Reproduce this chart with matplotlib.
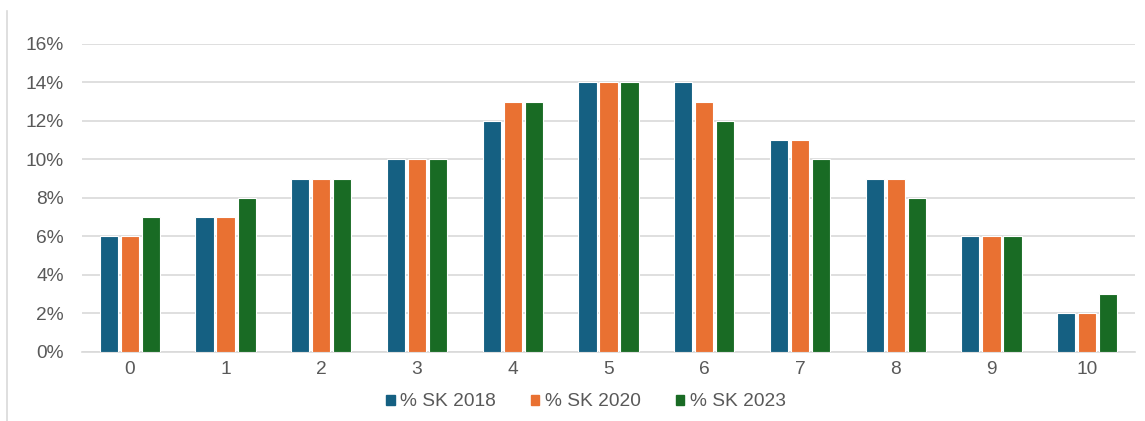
import numpy as np
import matplotlib
matplotlib.use("Agg")
import matplotlib.pyplot as plt
from matplotlib.lines import Line2D
from matplotlib.ticker import FuncFormatter

categories = [str(i) for i in range(11)]
sk_2018 = [6, 7, 9, 10, 12, 14, 14, 11, 9, 6, 2]
sk_2020 = [6, 7, 9, 10, 13, 14, 13, 11, 9, 6, 2]
sk_2023 = [7, 8, 9, 10, 13, 14, 12, 10, 8, 6, 3]
series_names = ["% SK 2018", "% SK 2020", "% SK 2023"]
colors = ["#156082", "#E97132", "#196B24"]

plt.rcParams['font.family'] = ['Liberation Sans', 'DejaVu Sans']

fig = plt.figure(figsize=(11.45, 4.21), dpi=100)
ax = fig.add_axes([82 / 1145, 1 - 351.5 / 421, (1135 - 82) / 1145, (351.5 - 44) / 421])

x = np.arange(len(categories))
step = 0.22
width = 0.19
for i, (vals, name, col) in enumerate(zip([sk_2018, sk_2020, sk_2023], series_names, colors)):
    ax.bar(x + (i - 1) * step, vals, width=width, color=col, label=name,
           edgecolor="white", linewidth=0.8, zorder=3)

ax.set_xlim(-0.5, 10.5)
ax.set_ylim(0, 16)
ax.set_yticks(np.arange(0, 17, 2))
ax.yaxis.set_major_formatter(FuncFormatter(lambda v, p: "{:d}%".format(int(v))))
ax.set_xticks(x)
ax.set_xticklabels(categories)

ax.grid(axis="y", color="#d9d9d9", linewidth=1.2, zorder=0)
for s in ["top", "right", "left"]:
    ax.spines[s].set_visible(False)
ax.spines["bottom"].set_color("#d9d9d9")
ax.spines["bottom"].set_linewidth(1.2)
ax.tick_params(axis="both", length=0, labelsize=13.8, colors="#595959")
ax.tick_params(axis="y", pad=13)
ax.tick_params(axis="x", pad=7)

handles = [plt.Rectangle((0, 0), 1, 1, color=c) for c in colors]
fig.legend(handles, series_names, loc="center", bbox_to_anchor=(586 / 1145, 1 - 402 / 421),
           ncol=3, frameon=False, fontsize=13.8, handlelength=0.45, handleheight=0.45,
           handletextpad=0.3, columnspacing=1.8, labelcolor="#595959")

fig.add_artist(Line2D([7 / 1145, 7 / 1145], [0, 1 - 11 / 421], transform=fig.transFigure,
                      color="#d9d9d9", linewidth=1.2))

fig.savefig("out.png", dpi=100)
